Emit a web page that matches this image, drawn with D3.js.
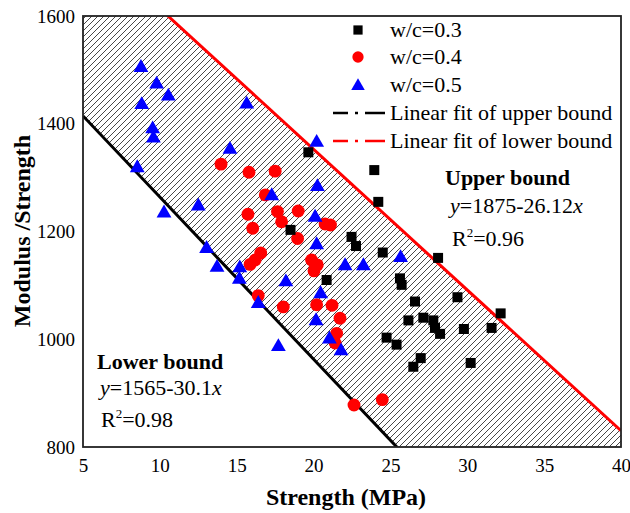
<!DOCTYPE html>
<html><head><meta charset="utf-8">
<script src="https://cdn.jsdelivr.net/npm/d3@7"></script>
<style>body{margin:0;background:#fff}svg{display:block}text{font-family:"Liberation Serif","Times New Roman",serif}</style>
</head><body><svg id="c" width="630" height="513"></svg>
<script>
const xTicks=[5,10,15,20,25,30,35,40];
const yTicks=[800,1000,1200,1400,1600];
const wc03=[[19.66,1347],[23.95,1314],[24.21,1255],[18.5,1203],[22.47,1190],[22.76,1173],[24.5,1161],[28.1,1151],[20.85,1110],[25.62,1113],[25.73,1101],[29.36,1078],[26.6,1070],[32.17,1048],[26.17,1035],[27.14,1040],[27.79,1035],[27.9,1021],[28.23,1010],[29.78,1019],[31.58,1021],[24.75,1003],[25.4,990],[26.97,965],[26.49,949],[30.22,956]];
const wc04=[[13.98,1325],[15.8,1310],[17.5,1312],[16.86,1268],[15.73,1232],[17.65,1237],[19.0,1238],[20.75,1214],[21.1,1212],[16.04,1206],[17.92,1218],[18.96,1187],[16.56,1160],[16.2,1147],[15.87,1139],[19.87,1147],[20.24,1138],[20.03,1127],[16.4,1081],[18.03,1060],[20.2,1064],[21.2,1063],[21.72,1039],[21.5,1011],[21.4,993],[22.63,878],[24.47,888]];
const wc05=[[8.77,1506],[9.79,1475],[10.55,1453],[8.82,1437],[9.53,1392],[9.58,1375],[15.65,1438],[14.56,1354],[8.53,1320],[20.2,1367],[12.5,1249],[10.27,1236],[17.28,1268],[20.25,1285],[20.1,1228],[13.04,1170],[20.2,1177],[13.72,1135],[15.2,1134],[15.17,1113],[16.4,1068],[18.2,1108],[22.05,1138],[23.24,1138],[25.66,1153],[20.46,1086],[20.16,1036],[21.03,1002],[21.79,980],[17.71,988]];
// fitted bounds: y = a + b x
const redFit=[1875,-26.12];
const blackFit=[1565,-30.1];
const legendLabels=["w/c=0.3","w/c=0.4","w/c=0.5","Linear fit of upper bound","Linear fit of lower bound"];

const svg=d3.select("#c");
const L=83,R=621,T=16,B=447;
const x=d3.scaleLinear([5,40],[L,R]);
const y=d3.scaleLinear([800,1600],[B,T]);
const f=(c,v)=>c[0]+c[1]*v;

const defs=svg.append("defs");
const pat=defs.append("pattern").attr("id","hatch").attr("patternUnits","userSpaceOnUse").attr("width",6).attr("height",6);
pat.append("path").attr("d","M0,6L6,0M-1.5,1.5L1.5,-1.5M4.5,7.5L7.5,4.5").attr("stroke","#333").attr("stroke-width",0.9);
defs.append("clipPath").attr("id","clip").append("rect").attr("x",L).attr("y",T).attr("width",R-L).attr("height",B-T);

// hatched band between the two fits
const xs=[5,(redFit[0]-1600)/-redFit[1],(blackFit[0]-800)/-blackFit[1],40].sort((a,b)=>a-b);
const band=d3.area().x(d=>x(d)).y0(d=>y(Math.max(800,f(blackFit,d)))).y1(d=>y(Math.min(1600,f(redFit,d))));
svg.append("path").datum(xs).attr("d",band).attr("fill","url(#hatch)").attr("clip-path","url(#clip)");

const g=svg.append("g").attr("clip-path","url(#clip)");
const ln=d3.line().x(d=>x(d[0])).y(d=>y(d[1]));
g.append("path").datum([[5,f(redFit,5)],[40,f(redFit,40)]]).attr("d",ln).attr("stroke","#f00").attr("stroke-width",3).attr("fill","none");
g.append("path").datum([[5,f(blackFit,5)],[40,f(blackFit,40)]]).attr("d",ln).attr("stroke","#000").attr("stroke-width",3).attr("fill","none");

// frame
svg.append("rect").attr("x",L).attr("y",T).attr("width",R-L).attr("height",B-T).attr("fill","none").attr("stroke","#222").attr("stroke-width",1.8);

// points
const sq=d3.symbol(d3.symbolSquare,100), ci=d3.symbol(d3.symbolCircle,130), tr=d3.symbol(d3.symbolTriangle,95);
svg.append("g").selectAll("path").data(wc04).join("path").attr("d",ci).attr("fill","#f00").attr("transform",d=>`translate(${x(d[0])},${y(d[1])})`);
svg.append("g").selectAll("path").data(wc03).join("path").attr("d",sq).attr("fill","#000").attr("transform",d=>`translate(${x(d[0])},${y(d[1])})`);
svg.append("g").selectAll("path").data(wc05).join("path").attr("d",tr).attr("fill","#00f").attr("transform",d=>`translate(${x(d[0])},${y(d[1])+1})`);

// axes
const ax=svg.append("g").attr("transform",`translate(0,${B})`).call(d3.axisBottom(x).tickValues(xTicks).tickFormat(d3.format("d")).tickSize(0).tickPadding(12));
const ay=svg.append("g").attr("transform",`translate(${L},0)`).call(d3.axisLeft(y).tickValues(yTicks).tickFormat(d3.format("d")).tickSize(0).tickPadding(8));
[ax,ay].forEach(a=>{a.select(".domain").remove();a.selectAll("text").attr("font-size",19).attr("font-family","Liberation Serif").attr("fill","#000");});

svg.append("text").attr("x",346).attr("y",505).attr("text-anchor","middle").attr("font-weight","bold").attr("font-size",24).text("Strength (MPa)");
svg.append("text").attr("transform","translate(30,231) rotate(-90)").attr("text-anchor","middle").attr("font-weight","bold").attr("font-size",24).text("Modulus /Strength");

// legend
const lg=svg.append("g");
const rows=[30,57,85,113,141];
lg.append("path").attr("d",d3.symbol(d3.symbolSquare,85)).attr("transform",`translate(358,${rows[0]})`);
lg.append("path").attr("d",d3.symbol(d3.symbolCircle,100)).attr("fill","#f00").attr("transform",`translate(358,${rows[1]})`);
lg.append("path").attr("d",d3.symbol(d3.symbolTriangle,80)).attr("fill","#00f").attr("transform",`translate(358,${rows[2]+1})`);
lg.append("line").attr("x1",333).attr("x2",385).attr("y1",rows[3]).attr("y2",rows[3]).attr("stroke","#000").attr("stroke-width",2.5).attr("stroke-dasharray","15,7,3,7,20");
lg.append("line").attr("x1",333).attr("x2",385).attr("y1",rows[4]).attr("y2",rows[4]).attr("stroke","#f00").attr("stroke-width",2.5).attr("stroke-dasharray","15,7,3,7,20");
lg.selectAll("text").data(legendLabels).join("text").attr("x",390).attr("y",(d,i)=>rows[i]+7).attr("font-size",22).text(d=>d);

// annotations
const ann=(xx,yy,parts,bold)=>{const t=svg.append("text").attr("x",xx).attr("y",yy).attr("font-size",22);if(bold)t.attr("font-weight","bold");parts.forEach(p=>{const s=t.append("tspan").text(p.t);if(p.i)s.attr("font-style","italic");if(p.sup)s.attr("font-size",13).attr("dy",-9);if(p.down)s.attr("dy",9);});};
ann(445,185,[{t:"Upper bound"}],true);
ann(450,213,[{t:"y",i:1},{t:"=1875-26.12"},{t:"x",i:1}]);
ann(452,246,[{t:"R"},{t:"2",sup:1},{t:"=0.96",down:1}]);
ann(97,369,[{t:"Lower bound"}],true);
ann(100,395,[{t:"y",i:1},{t:"=1565-30.1"},{t:"x",i:1}]);
ann(101,427,[{t:"R"},{t:"2",sup:1},{t:"=0.98",down:1}]);
</script></body></html>
